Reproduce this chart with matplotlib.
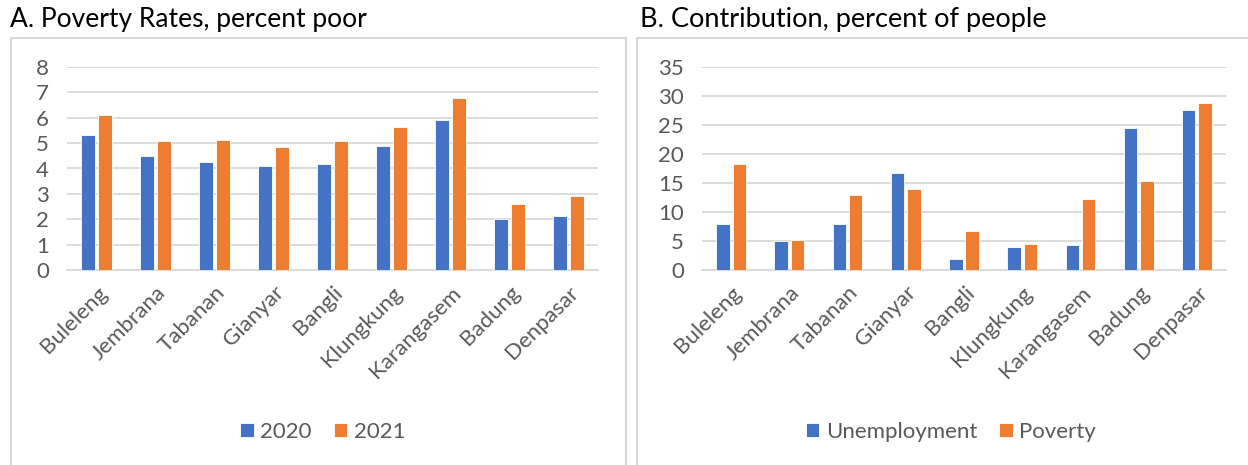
import matplotlib
matplotlib.use("Agg")
import matplotlib.pyplot as plt
from matplotlib.patches import Rectangle
import numpy as np

plt.rcParams['font.family'] = ['Lato', 'DejaVu Sans']

regencies = ['Buleleng', 'Jembrana', 'Tabanan', 'Gianyar', 'Bangli',
             'Klungkung', 'Karangasem', 'Badung', 'Denpasar']

# Panel A: poverty rates, percent poor
poverty_2020 = [5.32, 4.50, 4.26, 4.08, 4.18, 4.88, 5.91, 2.00, 2.12]
poverty_2021 = [6.11, 5.07, 5.12, 4.86, 5.09, 5.63, 6.79, 2.61, 2.93]

# Panel B: contribution, percent of people
contrib_unemployment = [7.94, 4.95, 7.94, 16.7, 1.90, 3.97, 4.38, 24.5, 27.6]
contrib_poverty = [18.2, 5.24, 12.9, 14.0, 6.74, 4.55, 12.3, 15.4, 28.8]

BLUE = '#4472C4'
ORANGE = '#ED7D31'
GRID = '#d9d9d9'
TICK = '#595959'

W, H = 1248, 465
fig = plt.figure(figsize=(W / 100, H / 100), dpi=100)
fig.patch.set_facecolor('white')


def px_axes(left, right, top, bottom):
    return fig.add_axes([left / W, 1 - bottom / H, (right - left) / W, (bottom - top) / H])


def draw_panel(ax, s1, s2, labels, ymax, ystep, legend_x):
    x = np.arange(len(regencies))
    bw = 0.23
    off = 0.14
    ax.bar(x - off, s1, bw, color=BLUE, edgecolor='white', linewidth=0.6, label=labels[0], zorder=3)
    ax.bar(x + off, s2, bw, color=ORANGE, edgecolor='white', linewidth=0.6, label=labels[1], zorder=3)
    ax.set_xlim(-0.5, len(regencies) - 0.5)
    ax.set_ylim(0, ymax)
    ax.set_yticks(np.arange(0, ymax + 0.1, ystep))
    ax.yaxis.grid(True, color=GRID, linewidth=1.3, zorder=0)
    ax.set_axisbelow(True)
    for side in ['top', 'right', 'left']:
        ax.spines[side].set_visible(False)
    ax.spines['bottom'].set_color(GRID)
    ax.spines['bottom'].set_linewidth(1.3)
    ax.tick_params(axis='y', length=0, pad=13, labelsize=16, labelcolor=TICK)
    ax.tick_params(axis='x', length=0, pad=9, labelsize=16, labelcolor=TICK)
    ax.set_xticks(x)
    ax.set_xticklabels(regencies, rotation=45, ha='right', rotation_mode='anchor')
    # legend sits centred in the chart frame, near the bottom
    leg = ax.legend(loc='center', bbox_to_anchor=(legend_x / W, 1 - 432 / H),
                    bbox_transform=fig.transFigure, ncol=2, frameon=False,
                    handlelength=0.6, handleheight=0.6, handletextpad=0.3,
                    columnspacing=1.0, fontsize=16)
    for t in leg.get_texts():
        t.set_color(TICK)


ax_a = px_axes(67, 598, 67, 270)
draw_panel(ax_a, poverty_2020, poverty_2021, ['2020', '2021'], 8, 1, 323)

ax_b = px_axes(702, 1226, 67, 270)
draw_panel(ax_b, contrib_unemployment, contrib_poverty, ['Unemployment', 'Poverty'], 35, 5, 951)

# chart frames
fig.patches.append(Rectangle((11 / W, -0.1), (626 - 11) / W, 1.1 - 38 / H,
                             transform=fig.transFigure, fill=False,
                             edgecolor=GRID, linewidth=1.5))
fig.patches.append(Rectangle((637 / W, -0.1), (1260 - 637) / W, 1.1 - 38 / H,
                             transform=fig.transFigure, fill=False,
                             edgecolor=GRID, linewidth=1.5))

fig.text(10 / W, 1 - 20 / H, 'A. Poverty Rates, percent poor', fontsize=19,
         color='black', va='center', ha='left')
fig.text(640 / W, 1 - 20 / H, 'B. Contribution, percent of people', fontsize=19.5,
         color='black', va='center', ha='left')

fig.savefig('out.png', dpi=100, facecolor='white')
